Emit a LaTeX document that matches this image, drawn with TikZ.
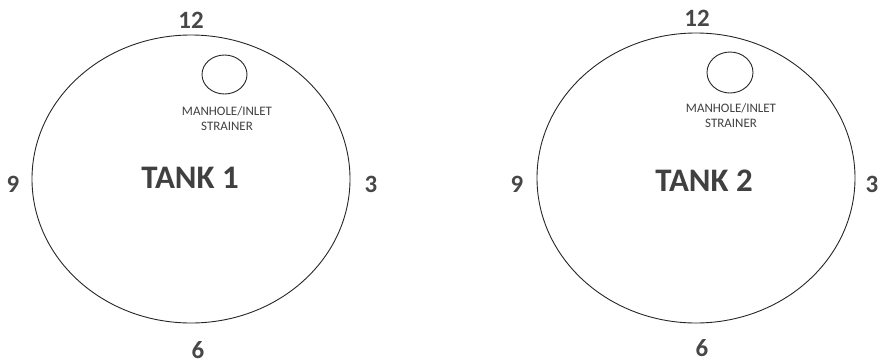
\documentclass[tikz,border=0pt]{standalone}
\usepackage{fontspec}
\setmainfont{Carlito}
\begin{document}
\begin{tikzpicture}[x=1bp,y=-1bp,
  num/.style={font=\bfseries\fontsize{25}{27}\selectfont,text=black!72,inner sep=1pt},
  tlabel/.style={font=\bfseries\fontsize{33}{35}\selectfont,text=black!75},
  mlabel/.style={font=\fontsize{13}{15}\selectfont,text=black!75,align=center,inner sep=0pt},
  rim/.style={line width=0.9bp,black!85},
]
\useasboundingbox (0,0) rectangle (880,363);
% Tank 1
\draw[rim] (191,179) ellipse [x radius=159, y radius=144];
\draw[rim] (224.5,74.5) ellipse [x radius=22.5, y radius=19.5];
\node[mlabel] (m1) at (227,119) {MANHOLE/INLET\\STRAINER};
\node[tlabel] (t1) at (190,178) {TANK 1};
\node[num] (n12a) at (191,20) {12};
\node[num] (n9a) at (13,184) {9};
\node[num] (n3a) at (371,184) {3};
\node[num] (n6a) at (198,350) {6};
% Tank 2
\draw[rim] (696,178) ellipse [x radius=159, y radius=145];
\draw[rim] (730,72.5) ellipse [x radius=23, y radius=20.5];
\node[mlabel] (m2) at (731,116) {MANHOLE/INLET\\STRAINER};
\node[tlabel] (t2) at (704,181) {TANK 2};
\node[num] (n12b) at (697,18) {12};
\node[num] (n9b) at (517,184) {9};
\node[num] (n3b) at (872,184) {3};
\node[num] (n6b) at (702,348) {6};
\end{tikzpicture}
\end{document}
